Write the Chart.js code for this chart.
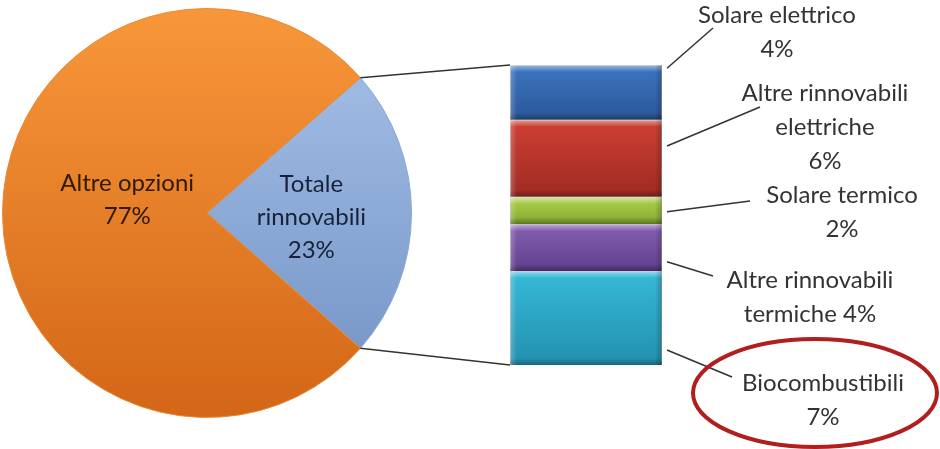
<!DOCTYPE html>
<html>
<head>
<meta charset="utf-8">
<script src="https://cdn.jsdelivr.net/npm/chart.js@4/dist/chart.umd.min.js"></script>
<style>
html, body { margin: 0; padding: 0; background: #fff; }
#wrap { position: relative; width: 940px; height: 449px; }
#wrap canvas { position: absolute; left: 0; top: 0; }
</style>
</head>
<body>
<div id="wrap">
    <canvas id="torta" width="940" height="449"></canvas>
    <canvas id="barra" width="940" height="449"></canvas>
</div>
<script>
// --- dati ---
const categorieTorta = ['Totale rinnovabili', 'Altre opzioni'];
const valoriTorta = [23, 77];

// barra dall'alto verso il basso
const categorieBarra = ['Solare elettrico', 'Altre rinnovabili elettriche', 'Solare termico', 'Altre rinnovabili termiche', 'Biocombustibili'];
const valoriBarra = [4.2, 5.9, 2.1, 3.6, 7.2];
const percentualiBarra = ['4%', '6%', '2%', '4%', '7%'];

// --- stile ---
const coloriTorta = [['#a9c4ea', '#7090c3'], ['#f8973a', '#d36617']];
const testoTorta = ['#17223a', '#2e1a06'];
const coloriBarra = [
    ['#3d76c2', '#2a5797'],
    ['#cf4034', '#9f2a22'],
    ['#b0d24f', '#82a82e'],
    ['#8660b3', '#5f3f8c'],
    ['#37b9d8', '#2290ae']
];
const FONT = '24px Lato, "Open Sans", sans-serif';
const RIGA = 33;

// posizione delle etichette (solo layout)
const layoutTorta = [
    { frac: 0.51, dy: 4, righe: ['Totale', 'rinnovabili'] },
    { frac: 0.39, dy: -13, righe: ['Altre opzioni'] }
];
const layoutBarra = [
    { start: 0.06, fine: [713, 28], x: 777, y: 15, righe: ['Solare elettrico'], inLinea: false },
    { start: 0.34, fine: [760, 107], x: 825, y: 93, righe: ['Altre rinnovabili', 'elettriche'], inLinea: false },
    { start: 0.55, fine: [750, 201], x: 842, y: 195, righe: ['Solare termico'], inLinea: false },
    { start: 0.80, fine: [713, 276], x: 810, y: 280, righe: ['Altre rinnovabili', 'termiche'], inLinea: true },
    { start: 0.84, fine: [732, 377], x: 823, y: 383, righe: ['Biocombustibili'], inLinea: false }
];

function gradiente(chart, top, bottom, c) {
    const g = chart.ctx.createLinearGradient(0, top, 0, bottom);
    g.addColorStop(0, c[0]);
    g.addColorStop(1, c[1]);
    return g;
}

// --- torta ---
const totaleTorta = valoriTorta.reduce((a, b) => a + b, 0);
const rotazione = 90 - (valoriTorta[0] / totaleTorta * 360) / 2;

const etichetteTortaPlugin = {
    id: 'etichetteTorta',
    afterDatasetsDraw(chart) {
        const ctx = chart.ctx;
        const meta = chart.getDatasetMeta(0);
        ctx.save();
        ctx.font = FONT;
        ctx.textAlign = 'center';
        ctx.textBaseline = 'middle';
        meta.data.forEach((arc, i) => {
            const lay = layoutTorta[i];
            const mid = (arc.startAngle + arc.endAngle) / 2;
            const cx = arc.x + Math.cos(mid) * arc.outerRadius * lay.frac;
            const cy = arc.y + Math.sin(mid) * arc.outerRadius * lay.frac + lay.dy;
            const righe = lay.righe.concat([valoriTorta[i] + '%']);
            const y0 = cy - (righe.length - 1) * RIGA / 2;
            ctx.fillStyle = testoTorta[i];
            righe.forEach((r, k) => ctx.fillText(r, cx, y0 + k * RIGA));
        });
        ctx.restore();
    }
};

const graficoTorta = new Chart(document.getElementById('torta'), {
    type: 'pie',
    data: {
        labels: categorieTorta,
        datasets: [{
            data: valoriTorta,
            backgroundColor: (c) => {
                const area = c.chart.chartArea;
                if (!area) return coloriTorta[c.dataIndex][0];
                return gradiente(c.chart, area.top, area.bottom, coloriTorta[c.dataIndex]);
            },
            borderColor: ['#8aa6d2', '#e88a35'],
            borderWidth: 1
        }]
    },
    options: {
        responsive: false,
        animation: false,
        rotation: rotazione,
        layout: { padding: { left: 2, top: 8, right: 528, bottom: 31 } },
        plugins: { legend: { display: false }, tooltip: { enabled: false } }
    },
    plugins: [etichetteTortaPlugin]
});

// --- barra ---
const n = valoriBarra.length;
const datasetsBarra = [];
for (let i = n - 1; i >= 0; i--) {
    // somma dei segmenti sotto a questo
    const sotto = valoriBarra.slice(i + 1).reduce((a, b) => a + b, 0);
    datasetsBarra.push({
        label: categorieBarra[i],
        data: [valoriBarra[i]],
        backgroundColor: (c) => {
            const y = c.chart.scales.y;
            if (!y || !c.chart.chartArea) return coloriBarra[i][0];
            return gradiente(c.chart, y.getPixelForValue(sotto + valoriBarra[i]), y.getPixelForValue(sotto), coloriBarra[i]);
        },
        borderColor: 'rgba(40,40,60,0.35)',
        borderWidth: 1,
        barPercentage: 1,
        categoryPercentage: 1
    });
}

function segmento(chart, i) {
    // i = indice dall'alto
    return chart.getDatasetMeta(n - 1 - i).data[0];
}

const biselloPlugin = {
    id: 'bisello',
    afterDatasetsDraw(chart) {
        const ctx = chart.ctx;
        ctx.save();
        for (let i = 0; i < n; i++) {
            const el = segmento(chart, i);
            const l = el.x - el.width / 2, r = el.x + el.width / 2;
            const t = el.y, b = el.base, s = 7;
            let g = ctx.createLinearGradient(0, t, 0, t + s);
            g.addColorStop(0, 'rgba(255,255,255,0.5)');
            g.addColorStop(1, 'rgba(255,255,255,0)');
            ctx.fillStyle = g;
            ctx.fillRect(l, t, r - l, s);
            g = ctx.createLinearGradient(0, b - s, 0, b);
            g.addColorStop(0, 'rgba(0,0,0,0)');
            g.addColorStop(1, 'rgba(0,0,0,0.3)');
            ctx.fillStyle = g;
            ctx.fillRect(l, b - s, r - l, s);
            g = ctx.createLinearGradient(r - s, 0, r, 0);
            g.addColorStop(0, 'rgba(0,0,0,0)');
            g.addColorStop(1, 'rgba(0,0,0,0.22)');
            ctx.fillStyle = g;
            ctx.fillRect(r - s, t, s, b - t);
            g = ctx.createLinearGradient(l, 0, l + s, 0);
            g.addColorStop(0, 'rgba(255,255,255,0.25)');
            g.addColorStop(1, 'rgba(255,255,255,0)');
            ctx.fillStyle = g;
            ctx.fillRect(l, t, s, b - t);
        }
        ctx.restore();
    }
};

const etichetteBarraPlugin = {
    id: 'etichetteBarra',
    afterDraw(chart) {
        const ctx = chart.ctx;
        const area = chart.chartArea;
        const primo = segmento(chart, 0), ultimo = segmento(chart, n - 1);
        ctx.save();
        ctx.strokeStyle = '#333';
        ctx.lineWidth = 1.5;

        // linee di collegamento torta -> barra
        const arc = graficoTorta.getDatasetMeta(0).data[0];
        const p1 = [arc.x + arc.outerRadius * Math.cos(arc.startAngle), arc.y + arc.outerRadius * Math.sin(arc.startAngle)];
        const p2 = [arc.x + arc.outerRadius * Math.cos(arc.endAngle), arc.y + arc.outerRadius * Math.sin(arc.endAngle)];
        ctx.beginPath();
        ctx.moveTo(p1[0], p1[1]);
        ctx.lineTo(area.left, primo.y);
        ctx.moveTo(p2[0], p2[1]);
        ctx.lineTo(area.left, ultimo.base);
        ctx.stroke();

        // etichette con linee guida
        ctx.font = FONT;
        ctx.textAlign = 'center';
        ctx.textBaseline = 'middle';
        ctx.fillStyle = '#333';
        layoutBarra.forEach((lay, i) => {
            const el = segmento(chart, i);
            const ys = el.y + (el.base - el.y) * lay.start;
            ctx.beginPath();
            ctx.moveTo(area.right + 5, ys);
            ctx.lineTo(lay.fine[0], lay.fine[1]);
            ctx.stroke();
            const righe = lay.righe.slice();
            if (lay.inLinea) righe[righe.length - 1] += ' ' + percentualiBarra[i];
            else righe.push(percentualiBarra[i]);
            righe.forEach((r, k) => ctx.fillText(r, lay.x, lay.y + k * (RIGA + 1)));
        });

        // ellisse rossa attorno ai biocombustibili
        ctx.strokeStyle = '#b01e1e';
        ctx.lineWidth = 4;
        ctx.beginPath();
        ctx.ellipse(815, 393, 122, 54, 0, 0, Math.PI * 2);
        ctx.stroke();
        ctx.restore();
    }
};

const totaleBarra = valoriBarra.reduce((a, b) => a + b, 0);

new Chart(document.getElementById('barra'), {
    type: 'bar',
    data: { labels: ['Totale rinnovabili'], datasets: datasetsBarra },
    options: {
        responsive: false,
        animation: false,
        layout: { padding: { left: 510, right: 278, top: 65, bottom: 84 } },
        scales: {
            x: { stacked: true, display: false },
            y: { stacked: true, display: false, min: 0, max: totaleBarra }
        },
        plugins: { legend: { display: false }, tooltip: { enabled: false } }
    },
    plugins: [biselloPlugin, etichetteBarraPlugin]
});
</script>
</body>
</html>
